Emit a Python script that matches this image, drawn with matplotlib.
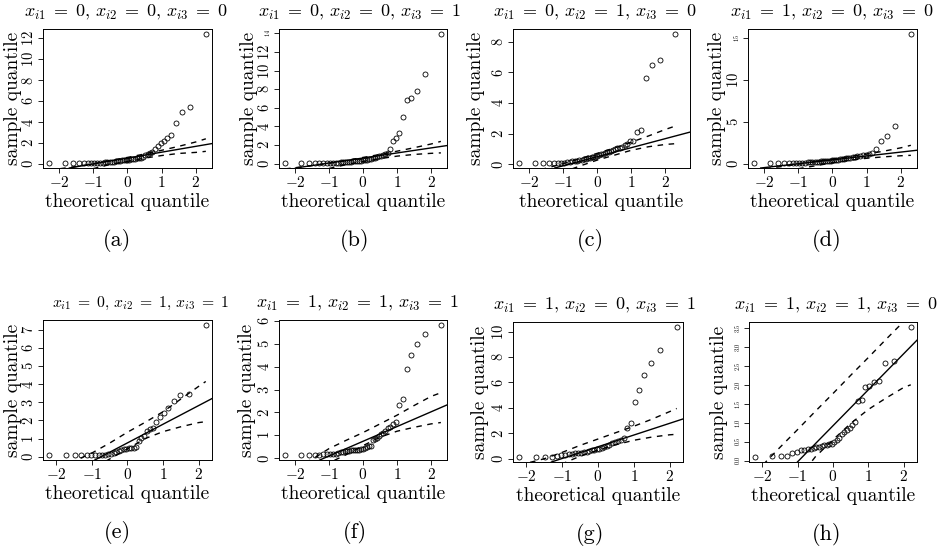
import matplotlib
matplotlib.use("Agg")
import matplotlib.pyplot as plt

plt.rcParams["mathtext.fontset"] = "cm"
plt.rcParams["font.family"] = "serif"
plt.rcParams["font.serif"] = ["cmr10"]
plt.rcParams["axes.unicode_minus"] = False

# ---------------- data ----------------
# theoretical normal quantiles for the two sample sizes seen
q45 = [-2.287, -1.834, -1.593, -1.420, -1.282, -1.164, -1.060, -0.967, -0.882, -0.803,
       -0.728, -0.657, -0.589, -0.524, -0.461, -0.400, -0.341, -0.282, -0.225, -0.168,
       -0.112, -0.056, 0.000, 0.056, 0.112, 0.168, 0.225, 0.282, 0.341, 0.400,
       0.461, 0.524, 0.589, 0.657, 0.728, 0.803, 0.882, 0.967, 1.060, 1.164,
       1.282, 1.420, 1.593, 1.834, 2.287]
q36 = [-2.200, -1.732, -1.480, -1.297, -1.150, -1.025, -0.913, -0.812, -0.719, -0.631,
       -0.549, -0.470, -0.393, -0.319, -0.246, -0.175, -0.105, -0.035, 0.035, 0.105,
       0.175, 0.246, 0.319, 0.393, 0.470, 0.549, 0.631, 0.719, 0.812, 0.913,
       1.025, 1.150, 1.297, 1.480, 1.732, 2.200]

# sample quantiles
y_a = [0.10, 0.10, 0.10, 0.10, 0.10, 0.10, 0.10, 0.10, 0.11, 0.12, 0.13, 0.14, 0.15, 0.17, 0.19,
       0.21, 0.24, 0.27, 0.30, 0.33, 0.35, 0.38, 0.40,
       0.42, 0.45, 0.48, 0.50, 0.52, 0.55, 0.60, 0.70, 0.85, 0.95, 1.00, 1.10, 1.45, 1.74,
       2.00, 2.19, 2.48, 2.72, 3.90, 5.00, 5.46, 12.4]
y_b = [0.10, 0.10, 0.10, 0.10, 0.10, 0.10, 0.10, 0.10, 0.11, 0.12, 0.13, 0.14, 0.15, 0.17, 0.19,
       0.21, 0.23, 0.25, 0.27, 0.29, 0.31, 0.33, 0.38,
       0.42, 0.45, 0.50, 0.55, 0.60, 0.65, 0.72, 0.80, 0.88, 0.95, 1.05, 1.20, 1.63, 2.40,
       2.76, 3.29, 4.98, 6.82, 7.07, 7.80, 9.58, 13.9]
y_c = [0.10, 0.10, 0.10, 0.10, 0.10, 0.10, 0.10, 0.12, 0.14, 0.16, 0.19, 0.22, 0.25, 0.28, 0.30,
       0.33, 0.36, 0.39, 0.42, 0.45, 0.48, 0.51, 0.55,
       0.60, 0.65, 0.68, 0.72, 0.78, 0.82, 0.88, 0.95, 1.00, 1.05, 1.10, 1.15, 1.25, 1.35,
       1.50, 1.55, 2.09, 2.21, 5.66, 6.45, 6.82, 8.49]
y_d = [0.10, 0.10, 0.10, 0.10, 0.10, 0.10, 0.10, 0.11, 0.12, 0.13, 0.15, 0.17, 0.19, 0.21, 0.23,
       0.25, 0.27, 0.29, 0.31, 0.33, 0.35, 0.37, 0.40,
       0.42, 0.45, 0.48, 0.52, 0.56, 0.60, 0.64, 0.68, 0.72, 0.78, 0.84, 0.90, 0.95, 1.00,
       1.05, 1.19, 1.25, 1.70, 2.69, 3.36, 4.47, 15.5]
y_e = [0.10, 0.10, 0.10, 0.10, 0.10, 0.10, 0.10, 0.10, 0.10, 0.10, 0.12, 0.15, 0.20, 0.28, 0.33,
       0.37, 0.40, 0.43,
       0.45, 0.48, 0.50, 0.55, 0.85, 1.05, 1.15, 1.40, 1.50, 1.60, 1.93, 2.20, 2.43, 2.67,
       3.09, 3.40, 3.46, 7.26]
y_f = [0.15, 0.15, 0.15, 0.15, 0.16, 0.17, 0.18, 0.18, 0.18, 0.20, 0.24, 0.27, 0.29, 0.30, 0.31,
       0.32, 0.34, 0.35, 0.36, 0.37, 0.38, 0.40, 0.42,
       0.45, 0.48, 0.52, 0.55, 0.80, 0.85, 0.90, 0.97, 1.05, 1.12, 1.20, 1.30, 1.38, 1.50,
       1.60, 2.33, 2.59, 3.90, 4.51, 5.01, 5.41, 5.81]
y_g = [0.15, 0.15, 0.15, 0.16, 0.25, 0.30, 0.33, 0.35, 0.38, 0.42, 0.45, 0.48, 0.52, 0.56, 0.60,
       0.65, 0.70, 0.75,
       0.80, 0.88, 0.95, 1.02, 1.10, 1.20, 1.30, 1.40, 1.50, 1.60, 2.45, 2.79, 4.42, 5.42,
       6.58, 7.53, 8.58, 10.34]
y_h = [0.10, 0.11, 0.12, 0.13, 0.20, 0.22, 0.27, 0.28, 0.30, 0.31, 0.33, 0.35, 0.37, 0.39, 0.40,
       0.42, 0.43, 0.45,
       0.48, 0.55, 0.60, 0.70, 0.75, 0.80, 0.85, 0.93, 1.03, 1.58, 1.60, 1.94, 1.97, 2.07,
       2.10, 2.58, 2.62, 3.52]

# reference line: (intercept, slope)
line_a = (0.56, 0.56)
line_b = (0.62, 0.54)
line_c = (0.50, 0.59)
line_d = (0.46, 0.465)
line_e = (0.76, 1.03)
line_f = (0.74, 0.643)
line_g = (0.94, 0.92)
line_h = (0.92, 0.95)

# dashed envelope
bx45 = [-2.29, -1.5, -1.0, -0.5, 0.0, 0.5, 1.0, 1.5, 2.0, 2.29]
bx36 = [-2.2, -1.5, -1.0, -0.5, 0.0, 0.5, 1.0, 1.5, 2.0, 2.2]
up_a = [-0.60, -0.25, 0.00, 0.33, 0.62, 0.95, 1.30, 1.68, 2.10, 2.40]
lo_a = [-1.20, -0.80, -0.45, -0.05, 0.25, 0.55, 0.80, 1.00, 1.10, 1.20]
up_b = [-0.55, -0.20, 0.05, 0.35, 0.68, 1.00, 1.35, 1.72, 2.12, 2.40]
lo_b = [-1.30, -0.85, -0.50, -0.10, 0.25, 0.55, 0.82, 1.00, 1.12, 1.17]
up_c = [-0.70, -0.25, 0.05, 0.38, 0.72, 1.07, 1.45, 1.85, 2.28, 2.50]
lo_c = [-1.40, -0.90, -0.50, -0.10, 0.28, 0.60, 0.92, 1.15, 1.30, 1.35]
up_d = [-0.75, -0.35, -0.05, 0.25, 0.55, 0.85, 1.15, 1.50, 1.90, 2.20]
lo_d = [-1.40, -0.95, -0.60, -0.25, 0.10, 0.40, 0.65, 0.82, 0.95, 1.00]
up_e = [-0.70, -0.25, 0.20, 0.75, 1.35, 1.90, 2.48, 3.18, 3.88, 4.15]
lo_e = [-2.20, -1.30, -0.70, -0.13, 0.43, 1.00, 1.38, 1.65, 1.88, 1.93]
up_f = [-0.60, -0.05, 0.42, 0.78, 1.12, 1.50, 1.88, 2.30, 2.70, 2.86]
lo_f = [-1.20, -0.60, -0.20, 0.15, 0.55, 0.92, 1.18, 1.35, 1.50, 1.56]
up_g = [-0.50, 0.00, 0.50, 1.05, 1.55, 2.05, 2.55, 3.10, 3.70, 3.95]
lo_g = [-1.60, -0.90, -0.40, 0.20, 0.68, 1.10, 1.45, 1.70, 1.88, 1.92]
up_h = [-0.32, 0.35, 0.82, 1.30, 1.77, 2.25, 2.72, 3.20, 3.67, 3.86]
lo_h = [-1.80, -1.10, -0.50, 0.10, 0.55, 0.98, 1.35, 1.65, 1.93, 2.00]

EQ = r"\;=\;"
titles = [r"$x_{i1}" + EQ + r"0,\, x_{i2}" + EQ + r"0,\, x_{i3}" + EQ + r"0$",
          r"$x_{i1}" + EQ + r"0,\, x_{i2}" + EQ + r"0,\, x_{i3}" + EQ + r"1$",
          r"$x_{i1}" + EQ + r"0,\, x_{i2}" + EQ + r"1,\, x_{i3}" + EQ + r"0$",
          r"$x_{i1}" + EQ + r"1,\, x_{i2}" + EQ + r"0,\, x_{i3}" + EQ + r"0$",
          r"$x_{i1}" + EQ + r"0,\, x_{i2}" + EQ + r"1,\, x_{i3}" + EQ + r"1$",
          r"$x_{i1}" + EQ + r"1,\, x_{i2}" + EQ + r"1,\, x_{i3}" + EQ + r"1$",
          r"$x_{i1}" + EQ + r"1,\, x_{i2}" + EQ + r"0,\, x_{i3}" + EQ + r"1$",
          r"$x_{i1}" + EQ + r"1,\, x_{i2}" + EQ + r"1,\, x_{i3}" + EQ + r"0$"]
captions = ["(a)", "(b)", "(c)", "(d)", "(e)", "(f)", "(g)", "(h)"]
xticks = [-2, -1, 0, 1, 2]
yticks_a = [0, 2, 4, 6, 8, 10, 12]
yticks_b = [0, 2, 4, 6, 8, 10, 12, 14]
yticks_c = [0, 2, 4, 6, 8]
yticks_d = [0, 5, 10, 15]
yticks_e = [0, 1, 2, 3, 4, 5, 6, 7]
yticks_f = [0, 1, 2, 3, 4, 5, 6]
yticks_g = [0, 2, 4, 6, 8, 10]
yticks_h = [0.0, 0.5, 1.0, 1.5, 2.0, 2.5, 3.0, 3.5]
tiny_b = [14]
tiny_d = [15]
tiny_h = yticks_h

panels = [
    (q45, y_a, line_a, bx45, up_a, lo_a, yticks_a, [], "{:g}"),
    (q45, y_b, line_b, bx45, up_b, lo_b, yticks_b, tiny_b, "{:g}"),
    (q45, y_c, line_c, bx45, up_c, lo_c, yticks_c, [], "{:g}"),
    (q45, y_d, line_d, bx45, up_d, lo_d, yticks_d, tiny_d, "{:g}"),
    (q36, y_e, line_e, bx36, up_e, lo_e, yticks_e, [], "{:g}"),
    (q45, y_f, line_f, bx45, up_f, lo_f, yticks_f, [], "{:g}"),
    (q36, y_g, line_g, bx36, up_g, lo_g, yticks_g, [], "{:g}"),
    (q36, y_h, line_h, bx36, up_h, lo_h, yticks_h, tiny_h, "{:.1f}"),
]

# ---------------- layout (pixels) ----------------
W, H = 945, 549
boxes = [(43, 29, 212, 168), (279, 29, 447, 168), (513, 29, 690, 168), (748, 29, 917, 168),
         (43, 320, 212, 460), (279, 320, 447, 460), (513, 322, 683, 462), (749, 322, 917, 462)]
ylab_x = [13, 249, 476, 717, 13, 247, 480, 719]
cap_x = [117, 355, 590, 827, 117, 355, 590, 827]
title_x = [126, 360, 595, 832, 140, 358, 595, 836]
title_size = [13, 13, 13, 13, 11.3, 13, 13, 13]

fig = plt.figure(figsize=(W / 100, H / 100), dpi=100)

def fy(py):
    return 1 - py / H

for k, (qx, qy, (b0, b1), bx, up, lo, yt, tiny, fmt) in enumerate(panels):
    L, T, R, B = boxes[k]
    ax = fig.add_axes([L / W, 1 - B / H, (R - L) / W, (B - T) / H])
    ax.plot(qx, qy, "o", mfc="none", mec="black", ms=3.6, mew=0.6, zorder=3)
    ax.axline((0, b0), slope=b1, color="black", lw=1.0)
    ax.plot(bx, up, color="black", lw=1.0, ls=(0, (4, 4)))
    ax.plot(bx, lo, color="black", lw=1.0, ls=(0, (4, 4)))
    xr = max(qx) - min(qx)
    yr = max(qy) - min(qy)
    xl = (min(qx) - 0.04 * xr, max(qx) + 0.04 * xr)
    if k == 2:
        xl = (xl[0], 2.72)
    ax.set_xlim(*xl)
    ax.set_ylim(min(qy) - 0.04 * yr, max(qy) + 0.04 * yr)
    ax.set_xticks(xticks)
    ax.set_xticklabels([("$%d$" % v) for v in xticks], fontsize=11)
    ax.set_yticks(yt)
    labs = ax.set_yticklabels(["$" + fmt.format(v) + "$" for v in yt], fontsize=10.5,
                              rotation=90, va="center", ha="right")
    for v, lab in zip(yt, labs):
        if v in tiny:
            lab.set_fontsize(4.5)
    ax.tick_params(axis="x", direction="out", length=3.8, width=0.6, pad=1.5)
    ax.tick_params(axis="y", direction="out", length=3.8, width=0.6, pad=1.0)
    for s in ax.spines.values():
        s.set_linewidth(0.7)
    cx = (L + R) / 2
    fig.text(title_x[k] / W, fy(T - 13), titles[k], ha="center", va="baseline",
             fontsize=title_size[k])
    fig.text(cx / W, fy(B + 39), "theoretical quantile", ha="center", va="baseline",
             fontsize=14)
    fig.text(ylab_x[k] / W, fy((T + B) / 2), "sample quantile", rotation=90,
             ha="center", va="center", fontsize=14)
    fig.text(cap_x[k] / W, fy(B + 72), captions[k], ha="center", va="center", fontsize=16)

fig.savefig("out.png", dpi=100)
